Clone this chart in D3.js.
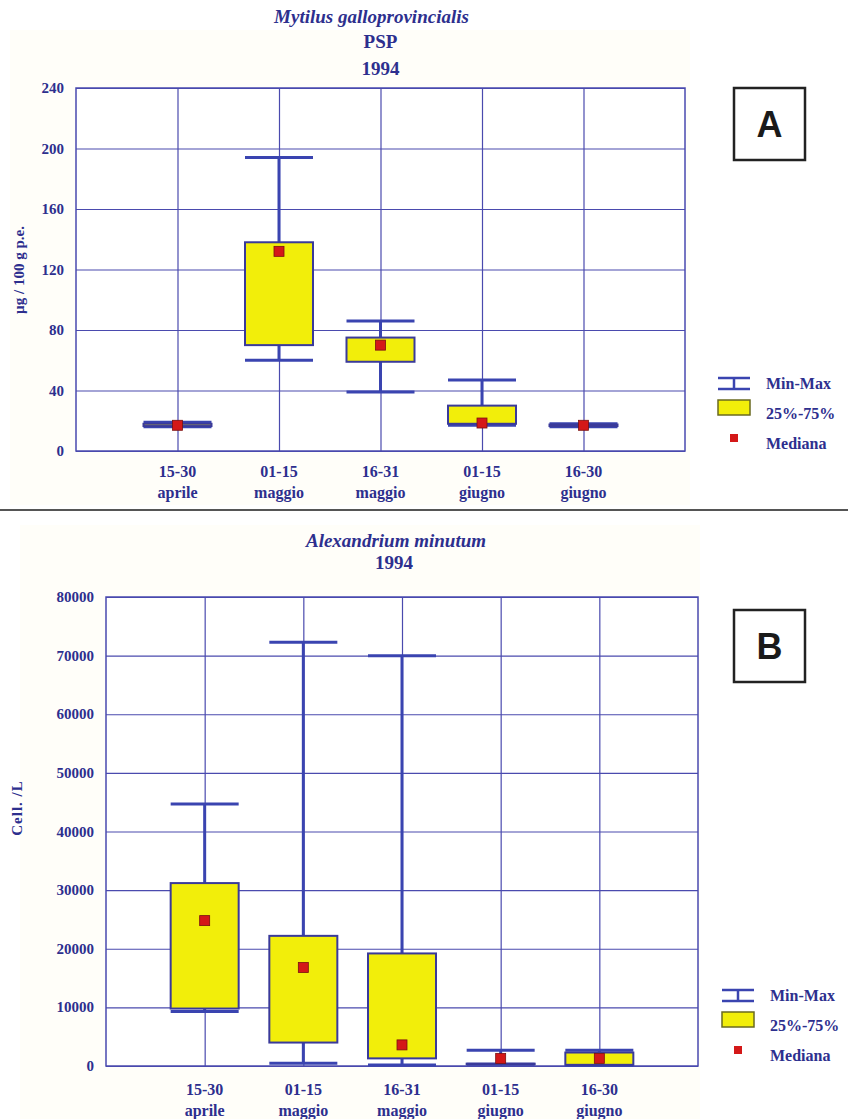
<!DOCTYPE html>
<html>
<head>
<meta charset="utf-8">
<script src="https://cdn.jsdelivr.net/npm/d3@7"></script>
<style>
  body { margin: 0; background: #fff; }
  svg text { font-family: "Liberation Serif", "Times New Roman", serif; font-weight: bold; }
</style>
</head>
<body>
<div id="chart"></div>
<script>
// Period labels (two lines each)
const periods = ["15-30|aprile", "01-15|maggio", "16-31|maggio", "01-15|giugno", "16-30|giugno"];

// Panel A: PSP in Mytilus galloprovincialis (µg / 100 g p.e.)
const pspMin = [16, 60, 39, 17, 16];
const pspQ1 = [16.5, 70, 59, 18, 16.5];
const pspMedian = [17, 132, 70, 18.5, 17];
const pspQ3 = [18, 138, 75, 30, 17.5];
const pspMax = [19, 194, 86, 47, 18];
const pspTicks = [0, 40, 80, 120, 160, 200, 240];

// Panel B: Alexandrium minutum (Cell. /L)
const alexMin = [9300, 450, 170, 290, 100];
const alexQ1 = [9800, 4000, 1300, 300, 200];
const alexMedian = [24800, 16800, 3600, 1300, 1300];
const alexQ3 = [31200, 22200, 19200, 400, 2300];
const alexMax = [44700, 72300, 70000, 2700, 2700];
const alexTicks = [0, 10000, 20000, 30000, 40000, 50000, 60000, 70000, 80000];

const legendItems = ["Min-Max", "25%-75%", "Mediana"];

const navy = "#2d2f8e";
const gridColor = "#4a4aae";
const whiskerColor = "#3a44b0";

const svg = d3.select("#chart").append("svg")
    .attr("width", 848)
    .attr("height", 1119);

// faint cream background behind the original chart images
svg.append("rect").attr("x", 10).attr("y", 30).attr("width", 680).attr("height", 475).attr("fill", "#fffef9");
svg.append("rect").attr("x", 20).attr("y", 525).attr("width", 680).attr("height", 594).attr("fill", "#fffef9");

// separator between the two panels
svg.append("line")
    .attr("x1", 0).attr("x2", 848).attr("y1", 510).attr("y2", 510)
    .attr("stroke", "#555").attr("stroke-width", 2);

function drawPanel(cfg) {
    const x = d3.scalePoint().domain(periods).range([cfg.left, cfg.right]).padding(1);
    const y = d3.scaleLinear().domain([0, cfg.ticks[cfg.ticks.length - 1]]).range([cfg.bottom, cfg.top]);
    const g = svg.append("g");

    // titles
    cfg.titles.forEach(t => {
        g.append("text")
            .attr("x", (cfg.left + cfg.right) / 2 + (t.dx || 0))
            .attr("y", t.y)
            .attr("text-anchor", "middle")
            .attr("font-size", 19)
            .attr("font-style", t.italic ? "italic" : "normal")
            .attr("fill", navy)
            .text(t.text);
    });

    // plot area white
    g.append("rect")
        .attr("x", cfg.left).attr("y", cfg.top)
        .attr("width", cfg.right - cfg.left).attr("height", cfg.bottom - cfg.top)
        .attr("fill", "#fff");

    // horizontal grid
    g.append("g")
        .attr("transform", `translate(${cfg.left},0)`)
        .call(d3.axisLeft(y).tickValues(cfg.ticks).tickSize(-(cfg.right - cfg.left)).tickFormat(""))
        .call(a => a.select(".domain").remove())
        .selectAll("line").attr("stroke", gridColor).attr("stroke-width", 1.2);

    // vertical grid
    g.append("g")
        .attr("transform", `translate(0,${cfg.bottom})`)
        .call(d3.axisBottom(x).tickSize(-(cfg.bottom - cfg.top)).tickFormat(""))
        .call(a => a.select(".domain").remove())
        .selectAll("line").attr("stroke", gridColor).attr("stroke-width", 1.2);

    // frame
    g.append("rect")
        .attr("x", cfg.left).attr("y", cfg.top)
        .attr("width", cfg.right - cfg.left).attr("height", cfg.bottom - cfg.top)
        .attr("fill", "none").attr("stroke", gridColor).attr("stroke-width", 1.5);

    // y tick labels
    g.selectAll(".ylab").data(cfg.ticks).join("text")
        .attr("x", cfg.left - 12)
        .attr("y", d => y(d) + 5)
        .attr("text-anchor", "end")
        .attr("font-size", 15)
        .attr("fill", navy)
        .text(d => d);

    // y axis title
    g.append("text")
        .attr("transform", `translate(${cfg.yTitleX},${cfg.yTitleY}) rotate(-90)`)
        .attr("text-anchor", "middle")
        .attr("font-size", 15)
        .attr("letter-spacing", cfg.yTitleSpacing || 0)
        .attr("fill", navy)
        .text(cfg.yTitle);

    // x labels
    periods.forEach(p => {
        const [a, b] = p.split("|");
        const t = g.append("text")
            .attr("x", x(p)).attr("y", cfg.bottom + cfg.xLabelDy)
            .attr("text-anchor", "middle")
            .attr("font-size", 16)
            .attr("fill", navy);
        t.append("tspan").attr("x", x(p)).text(a);
        t.append("tspan").attr("x", x(p)).attr("dy", 21).text(b);
    });

    const bw = 68;
    const rows = periods.map((p, i) => ({
        p, min: cfg.min[i], q1: cfg.q1[i], med: cfg.med[i], q3: cfg.q3[i], max: cfg.max[i]
    }));

    const boxes = g.selectAll(".box").data(rows).join("g");

    // whiskers
    boxes.append("line")
        .attr("x1", d => x(d.p)).attr("x2", d => x(d.p))
        .attr("y1", d => y(d.max)).attr("y2", d => y(d.q3))
        .attr("stroke", whiskerColor).attr("stroke-width", 3);
    boxes.append("line")
        .attr("x1", d => x(d.p)).attr("x2", d => x(d.p))
        .attr("y1", d => y(d.q1)).attr("y2", d => y(d.min))
        .attr("stroke", whiskerColor).attr("stroke-width", 3);
    // caps
    boxes.append("line")
        .attr("x1", d => x(d.p) - bw / 2).attr("x2", d => x(d.p) + bw / 2)
        .attr("y1", d => y(d.max)).attr("y2", d => y(d.max))
        .attr("stroke", whiskerColor).attr("stroke-width", 3);
    boxes.append("line")
        .attr("x1", d => x(d.p) - bw / 2).attr("x2", d => x(d.p) + bw / 2)
        .attr("y1", d => y(d.min)).attr("y2", d => y(d.min))
        .attr("stroke", whiskerColor).attr("stroke-width", 3);

    // 25-75% box
    boxes.append("rect")
        .attr("x", d => x(d.p) - bw / 2)
        .attr("y", d => y(d.q3))
        .attr("width", bw)
        .attr("height", d => Math.max(0, y(d.q1) - y(d.q3)))
        .attr("fill", "#f2ee0a")
        .attr("stroke", "#3a3a9a").attr("stroke-width", 2);

    // median
    boxes.append("rect")
        .attr("x", d => x(d.p) - 5)
        .attr("y", d => y(d.med) - 5)
        .attr("width", 10).attr("height", 10)
        .attr("fill", "#d41818")
        .attr("stroke", "#7a1010").attr("stroke-width", 0.8);

    // legend
    const lx = cfg.legendX, ly = cfg.legendY;
    const leg = g.append("g");
    leg.append("line").attr("x1", lx).attr("x2", lx + 32).attr("y1", ly - 6).attr("y2", ly - 6)
        .attr("stroke", whiskerColor).attr("stroke-width", 2.5);
    leg.append("line").attr("x1", lx).attr("x2", lx + 32).attr("y1", ly + 5).attr("y2", ly + 5)
        .attr("stroke", whiskerColor).attr("stroke-width", 2.5);
    leg.append("line").attr("x1", lx + 16).attr("x2", lx + 16).attr("y1", ly - 6).attr("y2", ly + 5)
        .attr("stroke", whiskerColor).attr("stroke-width", 2.5);
    leg.append("rect").attr("x", lx).attr("y", ly + 16).attr("width", 32).attr("height", 15)
        .attr("fill", "#f2ee0a").attr("stroke", "#6a6a20").attr("stroke-width", 1.5);
    leg.append("rect").attr("x", lx + 12).attr("y", ly + 50).attr("width", 8).attr("height", 8)
        .attr("fill", "#d41818");
    leg.selectAll(".lt").data(legendItems).join("text")
        .attr("x", lx + 48)
        .attr("y", (d, i) => ly + 5 + i * 30)
        .attr("font-size", 16)
        .attr("fill", navy)
        .text(d => d);

    // panel letter box
    svg.append("rect")
        .attr("x", 734).attr("y", cfg.letterY).attr("width", 71).attr("height", 72)
        .attr("fill", "#fff").attr("stroke", "#222").attr("stroke-width", 2.5);
    svg.append("text")
        .attr("x", 769.5).attr("y", cfg.letterY + 49)
        .attr("text-anchor", "middle")
        .attr("font-size", 36)
        .style("font-family", "'Liberation Sans', Arial, sans-serif")
        .attr("fill", "#1a1a1a")
        .text(cfg.letter);
}

drawPanel({
    left: 76, right: 685, top: 88, bottom: 451,
    ticks: pspTicks,
    min: pspMin, q1: pspQ1, med: pspMedian, q3: pspQ3, max: pspMax,
    titles: [
        { text: "Mytilus galloprovincialis", y: 23, italic: true, dx: -9 },
        { text: "PSP", y: 48 },
        { text: "1994", y: 75 }
    ],
    yTitle: "\u00b5g / 100 g p.e.", yTitleX: 24, yTitleY: 270,
    xLabelDy: 26,
    legendX: 718, legendY: 384,
    letter: "A", letterY: 88
});

drawPanel({
    left: 106, right: 698, top: 597, bottom: 1066,
    ticks: alexTicks,
    min: alexMin, q1: alexQ1, med: alexMedian, q3: alexQ3, max: alexMax,
    titles: [
        { text: "Alexandrium minutum", y: 547, italic: true, dx: -6 },
        { text: "1994", y: 569, dx: -8 }
    ],
    yTitle: "Cell. /L", yTitleX: 22, yTitleY: 808, yTitleSpacing: 1,
    xLabelDy: 29,
    legendX: 722, legendY: 996,
    letter: "B", letterY: 610
});
</script>
</body>
</html>
